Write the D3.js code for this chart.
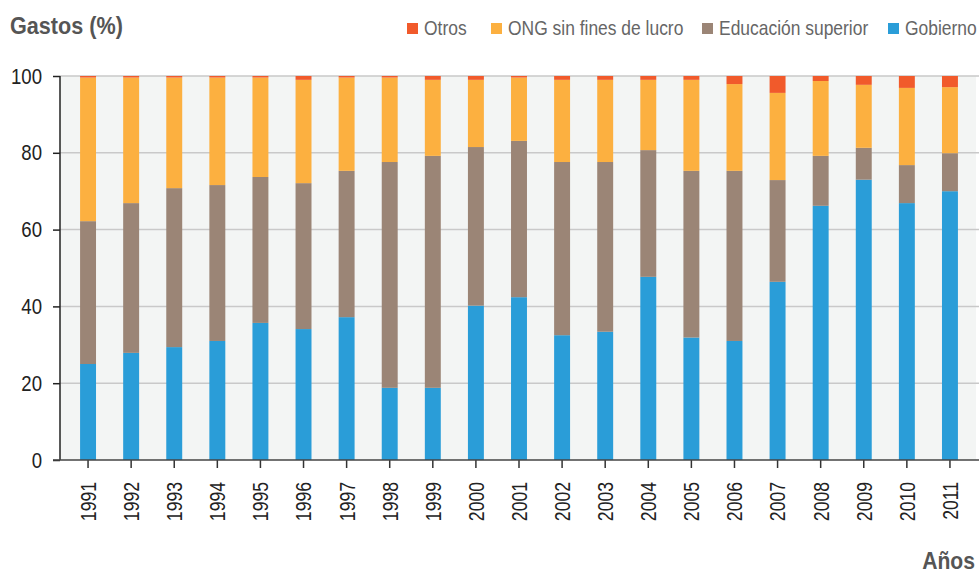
<!DOCTYPE html>
<html>
<head>
<meta charset="utf-8">
<script src="https://cdn.jsdelivr.net/npm/d3@7"></script>
<style>
  html, body { margin: 0; padding: 0; background: #fff; }
  svg { display: block; }
  text { font-family: "Liberation Sans", Arial, sans-serif; }
</style>
</head>
<body>
<svg id="chart" width="979" height="572"></svg>
<script>
const years = ["1991","1992","1993","1994","1995","1996","1997","1998","1999","2000","2001","2002","2003","2004","2005","2006","2007","2008","2009","2010","2011"];
const gobierno  = [25.0, 27.9, 29.4, 31.0, 35.7, 34.1, 37.2, 18.8, 18.8, 40.2, 42.4, 32.5, 33.4, 47.7, 31.9, 31.0, 46.4, 66.2, 73.0, 66.9, 70.0];
const educacion = [37.2, 39.0, 41.4, 40.6, 38.0, 38.0, 38.1, 58.8, 60.4, 41.3, 40.7, 45.1, 44.2, 33.0, 43.4, 44.3, 26.5, 13.0, 8.3, 9.9, 9.9];
const ong       = [37.4, 32.7, 28.8, 28.0, 25.9, 26.9, 24.3, 22.0, 19.8, 17.5, 16.5, 21.4, 21.4, 18.3, 23.7, 22.6, 22.7, 19.5, 16.4, 20.1, 17.2];
const otros     = [0.4, 0.4, 0.4, 0.4, 0.4, 1.0, 0.4, 0.4, 1.0, 1.0, 0.4, 1.0, 1.0, 1.0, 1.0, 2.1, 4.4, 1.3, 2.3, 3.1, 2.9];
const yTicks = [0, 20, 40, 60, 80, 100];
const seriesNames = ["Gobierno", "Educación superior", "ONG sin fines de lucro", "Otros"];
const seriesColors = ["#2a9dd8", "#9b8576", "#fcb040", "#f15a2b"];
const legendOrder = ["Otros", "ONG sin fines de lucro", "Educación superior", "Gobierno"];

const rows = years.map((yr, i) => ({
  year: yr,
  "Gobierno": gobierno[i],
  "Educación superior": educacion[i],
  "ONG sin fines de lucro": ong[i],
  "Otros": otros[i]
}));

// condense text horizontally (narrow typeface look)
function condense(sel, k) {
  sel.each(function() {
    const w = this.getComputedTextLength();
    d3.select(this).attr("textLength", w * k).attr("lengthAdjust", "spacingAndGlyphs");
  });
}

const svg = d3.select("#chart");
const pL = 60, pR = 976, pT = 76, pB = 460;

const x = d3.scaleBand().domain(years).range([66.5, 971.5]).paddingInner(0.63).paddingOuter(0.315);
const y = d3.scaleLinear().domain([0, 100]).range([pB, pT]);
const color = d3.scaleOrdinal().domain(seriesNames).range(seriesColors);

// plot background
svg.append("rect").attr("x", pL).attr("y", pT).attr("width", pR - pL).attr("height", pB - pT).attr("fill", "#f3f5f4");

// gridlines
svg.append("g").selectAll("line").data(yTicks.filter(d => d > 0)).join("line")
  .attr("x1", pL).attr("x2", 979)
  .attr("y1", d => y(d)).attr("y2", d => y(d))
  .attr("stroke", "#c9c9c9").attr("stroke-width", 1.5);

// stacked bars
const stacked = d3.stack().keys(seriesNames)(rows);
svg.append("g").selectAll("g").data(stacked).join("g")
  .attr("fill", d => color(d.key))
  .selectAll("rect").data(d => d).join("rect")
  .attr("x", d => x(d.data.year))
  .attr("width", x.bandwidth())
  .attr("y", d => y(d[1]))
  .attr("height", d => y(d[0]) - y(d[1]));

// y axis
const yAxis = svg.append("g").attr("transform", `translate(${pL},0)`)
  .call(d3.axisLeft(y).tickValues(yTicks).tickSize(7).tickPadding(11).tickFormat(d3.format("d")));
yAxis.select(".domain").remove();
yAxis.selectAll(".tick line").attr("stroke", "#222").attr("stroke-width", 1.5);
yAxis.selectAll(".tick text").attr("fill", "#222").style("font-size", "22px").style("font-family", "Liberation Sans, Arial, sans-serif");
condense(yAxis.selectAll(".tick text"), 0.845);
svg.append("line").attr("x1", pL).attr("x2", pL).attr("y1", pT).attr("y2", pB).attr("stroke", "#222").attr("stroke-width", 1.5);

// x axis
const xAxis = svg.append("g").attr("transform", `translate(0,${pB})`)
  .call(d3.axisBottom(x).tickSize(8));
xAxis.select(".domain").remove();
xAxis.selectAll(".tick line").attr("stroke", "#333").attr("stroke-width", 1.5);
xAxis.selectAll(".tick text")
  .attr("transform", "rotate(-90)")
  .attr("text-anchor", "end")
  .attr("x", -22).attr("y", 0).attr("dy", "0.36em")
  .attr("fill", "#222").style("font-size", "22px").style("font-family", "Liberation Sans, Arial, sans-serif");
condense(xAxis.selectAll(".tick text"), 0.8);
svg.append("line").attr("x1", 53).attr("x2", 979).attr("y1", pB).attr("y2", pB).attr("stroke", "#444").attr("stroke-width", 1.5);

// title and x-axis name
const t1 = svg.append("text").attr("x", 10).attr("y", 34).text("Gastos (%)")
  .attr("fill", "#555").style("font-size", "24px").style("font-weight", "bold");
condense(t1, 0.9);
const t2 = svg.append("text").attr("x", 975).attr("y", 569).attr("text-anchor", "end").text("Años")
  .attr("fill", "#555").style("font-size", "24px").style("font-weight", "bold");
condense(t2, 0.88);

// legend
const legendX = [407, 491, 702, 888];
const lg = svg.append("g").selectAll("g").data(legendOrder).join("g")
  .attr("transform", (d, i) => `translate(${legendX[i]},23)`);
lg.append("rect").attr("width", 11).attr("height", 11).attr("fill", d => color(d));
const lt = lg.append("text").attr("x", 17).attr("y", 12).text(d => d)
  .attr("fill", "#666").style("font-size", "21px");
condense(lt, 0.83);
</script>
</body>
</html>
